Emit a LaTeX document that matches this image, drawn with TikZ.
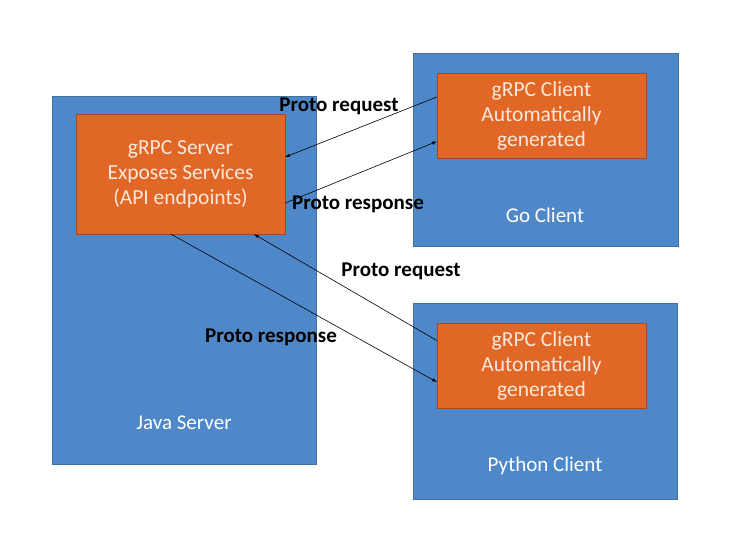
\documentclass[tikz,border=0pt]{standalone}
\usepackage{fontspec}
\setmainfont{Carlito}
\usepackage{tikz}

\definecolor{boxblue}{HTML}{4F88C8}
\definecolor{edgeblue}{HTML}{41719C}
\definecolor{boxorange}{HTML}{E06726}
\definecolor{edgeorange}{HTML}{A5491C}
\definecolor{paletext}{HTML}{FCE8DC}

\tikzset{
    hostbox/.style={draw=edgeblue, fill=boxblue, inner sep=0pt},
    corebox/.style={draw=edgeorange, fill=boxorange, inner sep=0pt, text=paletext,
        align=center, font=\fontsize{21.5}{25}\selectfont},
    hostname/.style={text=white, font=\fontsize{21}{25}\selectfont},
    msg/.style={font=\bfseries\fontsize{21}{25}\selectfont},
    call/.style={-latex, line width=0.6pt}
}

\begin{document}
\begin{tikzpicture}[x=1pt, y=-1pt]
    \useasboundingbox (0,0) rectangle (730,548);
    % hosts
    \node[hostbox, minimum width=264pt, minimum height=368pt] (java) at (184,280) {};
    \node[hostbox, minimum width=265pt, minimum height=193pt] (go) at (545.5,149.5) {};
    \node[hostbox, minimum width=264pt, minimum height=196pt] (python) at (545,401) {};
    \node[hostname] (javaname) at (184,423) {Java Server};
    \node[hostname] (goname) at (545,215) {Go Client};
    \node[hostname] (pythonname) at (545,466) {Python Client};
    % grpc parts
    \node[corebox, minimum width=209pt, minimum height=120pt] (server) at (180.5,174)
        {gRPC Server\\Exposes Services\\(API endpoints)};
    \node[corebox, minimum width=209pt, minimum height=85pt] (goclient) at (541.5,115.5)
        {gRPC Client\\Automatically\\generated};
    \node[corebox, minimum width=209pt, minimum height=85pt] (pyclient) at (541.5,365.5)
        {gRPC Client\\Automatically\\generated};
    % calls
    \draw[call] ([yshift=18.5pt]goclient.west) -- ([yshift=17pt]server.east);
    \draw[call] ([yshift=-29pt]server.east) -- ([yshift=-26pt]goclient.west);
    \draw[call] ([yshift=25pt]pyclient.west) -- ([xshift=73.5pt]server.south);
    \draw[call] ([xshift=-9.5pt]server.south) -- ([yshift=-16.5pt]pyclient.west);
    \node[msg] (req1) at (339,106) {Proto request};
    \node[msg] (resp1) at (358,204) {Proto response};
    \node[msg] (req2) at (401,271) {Proto request};
    \node[msg] (resp2) at (271,337) {Proto response};
\end{tikzpicture}
\end{document}
